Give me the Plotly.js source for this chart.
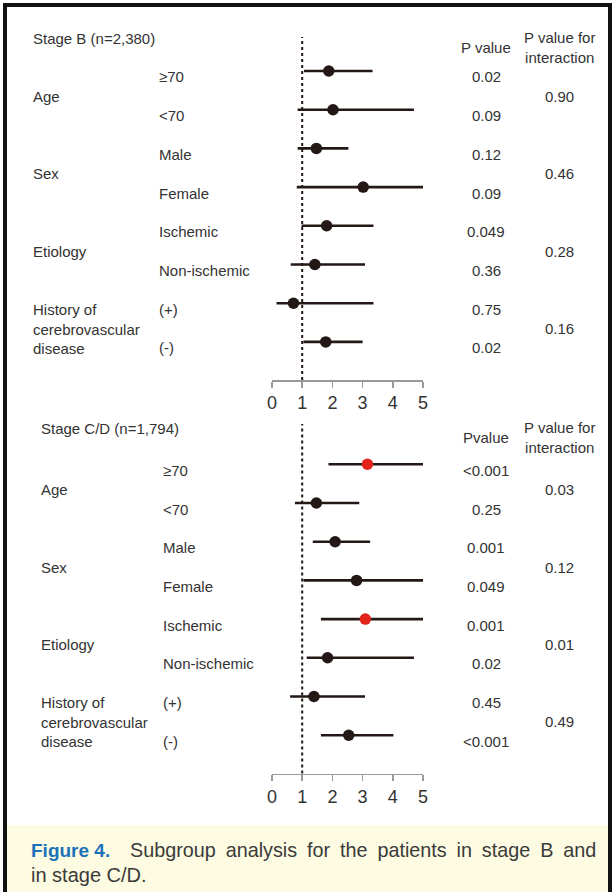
<!DOCTYPE html>
<html>
<head>
<meta charset="utf-8">
<script src="https://cdn.plot.ly/plotly-3.0.1.min.js"></script>
<style>
html,body{margin:0;padding:0;background:#fff;}
#chart{width:614px;height:892px;}
</style>
</head>
<body>
<div id="chart"></div>
<script>
// ---------- data ----------
const subgroups = ['≥70', '<70', 'Male', 'Female', 'Ischemic', 'Non-ischemic', '(+)', '(-)'];
const groups = ['Age', 'Sex', 'Etiology', 'History of<br>cerebrovascular<br>disease'];
const rows = [0, 1, 2, 3, 4, 5, 6, 7];

// Stage B (n=2,380)
const bTitle = 'Stage B (n=2,380)';
const bEst = [1.88, 2.02, 1.47, 3.02, 1.81, 1.42, 0.71, 1.78];
const bLo  = [1.06, 0.85, 0.85, 0.82, 0.98, 0.62, 0.15, 1.04];
const bHi  = [3.33, 4.70, 2.53, 5.00, 3.36, 3.08, 3.36, 3.00];
const bP    = ['0.02', '0.09', '0.12', '0.09', '0.049', '0.36', '0.75', '0.02'];
const bPint = ['0.90', '0.46', '0.28', '0.16'];
const bSig  = [0, 0, 0, 0, 0, 0, 0, 0];

// Stage C/D (n=1,794)
const cTitle = 'Stage C/D (n=1,794)';
const cEst = [3.16, 1.47, 2.09, 2.80, 3.09, 1.84, 1.39, 2.54];
const cLo  = [1.87, 0.76, 1.35, 1.04, 1.62, 1.15, 0.60, 1.62];
const cHi  = [5.00, 2.89, 3.25, 5.00, 5.00, 4.70, 3.08, 4.02];
const cP    = ['<0.001', '0.25', '0.001', '0.049', '0.001', '0.02', '0.45', '<0.001'];
const cPint = ['0.03', '0.12', '0.01', '0.49'];
const cSig  = [1, 0, 0, 0, 1, 0, 0, 0];

const xTicks = [0, 1, 2, 3, 4, 5];
const caption1Bold = 'Figure 4.';
const caption1 = 'Subgroup analysis for the patients in stage B and';
const caption2 = 'in stage C/D.';

// ---------- helpers ----------
const W = 614, H = 892;
const px = v => v / W;
const py = v => 1 - v / H;
const FONT = 'Liberation Sans, Arial, sans-serif';
const TXT = '#333333';
const DARK = '#231815';
const RED = '#e2231a';

function trace(est, lo, hi, sig, xa, ya) {
  return {
    type: 'scatter', mode: 'markers',
    x: est, y: rows, xaxis: xa, yaxis: ya,
    cliponaxis: false,
    marker: {size: 11.5, color: sig.map(s => s ? RED : DARK)},
    error_x: {
      type: 'data', symmetric: false,
      array: hi.map((h, i) => h - est[i]),
      arrayminus: lo.map((l, i) => est[i] - l),
      color: DARK, thickness: 2.6, width: 0
    },
    hoverinfo: 'skip', showlegend: false
  };
}

function panelAnnotations(ya, title, titleY, headY, p, pint, groupX, subX, pHead) {
  const a = [];
  const base = {showarrow: false, font: {family: FONT, size: 15, color: TXT}};
  a.push(Object.assign({}, base, {text: title, xref: 'paper', yref: 'paper',
    x: px(groupX), y: py(titleY), xanchor: 'left', yanchor: 'middle'}));
  a.push(Object.assign({}, base, {text: pHead, xref: 'paper', yref: 'paper',
    x: px(486), y: py(headY), xanchor: 'center', yanchor: 'middle'}));
  a.push(Object.assign({}, base, {text: 'P value for<br>interaction', xref: 'paper', yref: 'paper',
    x: px(559), y: py(headY), xanchor: 'center', yanchor: 'middle', align: 'center'}));
  subgroups.forEach((s, i) => {
    a.push(Object.assign({}, base, {text: s, xref: 'paper', yref: ya,
      x: px(subX), y: rows[i], yshift: -6, xanchor: 'left', yanchor: 'middle'}));
    a.push(Object.assign({}, base, {text: p[i], xref: 'paper', yref: ya,
      x: px(486), y: rows[i], yshift: -6, xanchor: 'center', yanchor: 'middle'}));
  });
  groups.forEach((g, k) => {
    const yMid = (rows[2 * k] + rows[2 * k + 1]) / 2;
    a.push(Object.assign({}, base, {text: g, xref: 'paper', yref: ya,
      x: px(groupX), y: yMid, yshift: -6, xanchor: 'left', yanchor: 'middle', align: 'left'}));
    a.push(Object.assign({}, base, {text: pint[k], xref: 'paper', yref: ya,
      x: px(559), y: yMid, yshift: -6, xanchor: 'center', yanchor: 'middle'}));
  });
  return a;
}

const xaxisBase = {
  range: [0, 5], tickvals: xTicks, ticktext: xTicks.map(String),
  showline: true, linecolor: '#9a9a9a', linewidth: 1.5,
  ticks: 'outside', ticklen: 6, tickwidth: 1.5, tickcolor: '#9a9a9a',
  tickfont: {family: FONT, size: 18, color: TXT},
  showgrid: false, zeroline: false, fixedrange: true,
  domain: [px(272), px(423)]
};
const yaxisBase = {
  showline: false, showgrid: false, zeroline: false, showticklabels: false,
  ticks: '', fixedrange: true
};

// justified first caption line: widen the gaps between words
const caption1Justified = caption1.split(' ').join('\u2002');

const layout = {
  width: W, height: H,
  margin: {l: 0, r: 0, t: 0, b: 0},
  paper_bgcolor: '#ffffff', plot_bgcolor: 'rgba(0,0,0,0)',
  font: {family: FONT, color: TXT},
  showlegend: false,
  xaxis: Object.assign({}, xaxisBase, {anchor: 'y'}),
  yaxis: Object.assign({}, yaxisBase, {
    domain: [py(380), py(37)], range: [(380 - 71) / 38.7, (37 - 71) / 38.7]}),
  xaxis2: Object.assign({}, xaxisBase, {anchor: 'y2'}),
  yaxis2: Object.assign({}, yaxisBase, {
    domain: [py(773.5), py(424)], range: [(773.5 - 464.3) / 38.7, (424 - 464.3) / 38.7]}),
  shapes: [
    {type: 'rect', xref: 'paper', yref: 'paper', x0: px(5), x1: px(610), y0: py(825), y1: py(900),
      fillcolor: '#fdfbe1', line: {width: 0}, layer: 'below'},
    {type: 'line', xref: 'x', yref: 'y domain', x0: 1, x1: 1, y0: 0, y1: 1,
      line: {color: DARK, width: 2, dash: 'dot'}, layer: 'below'},
    {type: 'line', xref: 'x2', yref: 'y2 domain', x0: 1, x1: 1, y0: 0, y1: 1,
      line: {color: DARK, width: 2, dash: 'dot'}, layer: 'below'},
    {type: 'rect', xref: 'paper', yref: 'paper', x0: px(5), x1: px(610), y0: py(5), y1: py(905),
      line: {color: '#111111', width: 4}, fillcolor: 'rgba(0,0,0,0)', layer: 'above'}
  ],
  annotations: [].concat(
    panelAnnotations('y', bTitle, 38, 47.3, bP, bPint, 31, 157, 'P value'),
    panelAnnotations('y2', cTitle, 428, 437.5, cP, cPint, 39, 161, 'Pvalue'),
    [
      {text: '<b>' + caption1Bold + '</b>', xref: 'paper', yref: 'paper', x: px(29), y: py(850),
        xanchor: 'left', yanchor: 'middle', showarrow: false,
        font: {family: FONT, size: 19, color: '#1a72b9'}},
      {text: caption1Justified, xref: 'paper', yref: 'paper', x: px(128), y: py(850),
        xanchor: 'left', yanchor: 'middle', showarrow: false,
        font: {family: FONT, size: 19.8, color: '#3a3a3a'}},
      {text: caption2, xref: 'paper', yref: 'paper', x: px(29), y: py(875),
        xanchor: 'left', yanchor: 'middle', showarrow: false,
        font: {family: FONT, size: 20, color: '#3a3a3a'}}
    ]
  )
};

const data = [
  trace(bEst, bLo, bHi, bSig, 'x', 'y'),
  trace(cEst, cLo, cHi, cSig, 'x2', 'y2')
];

Plotly.newPlot('chart', data, layout, {displayModeBar: false, staticPlot: true});
</script>
</body>
</html>
